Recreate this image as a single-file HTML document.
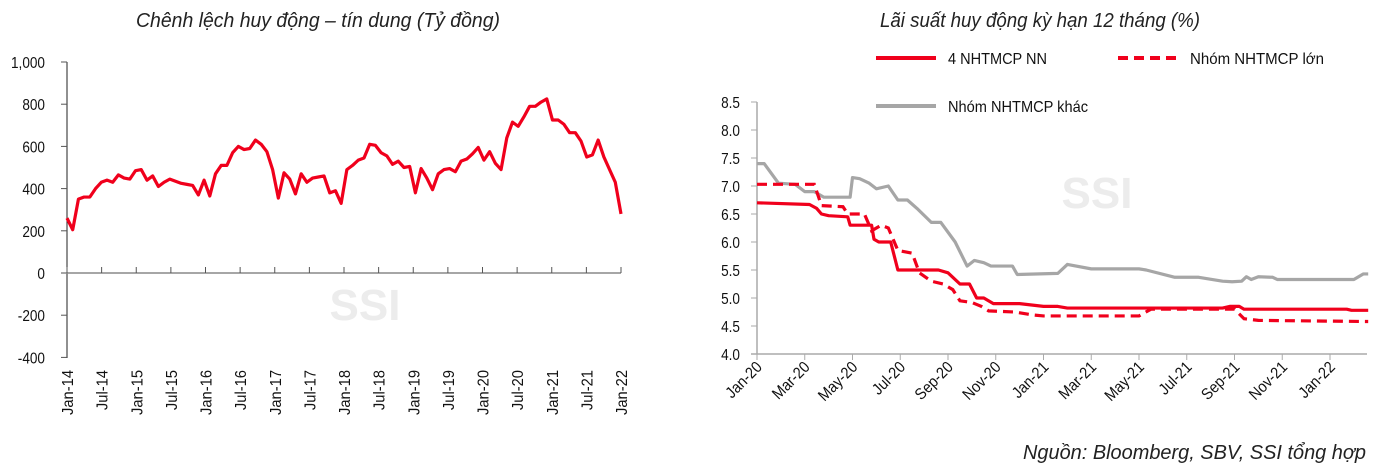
<!DOCTYPE html>
<html><head><meta charset="utf-8"><style>
html,body{margin:0;padding:0;background:#fff;width:1379px;height:474px;overflow:hidden}
svg{display:block;font-family:"Liberation Sans Narrow","Liberation Sans",sans-serif}
</style></head><body>
<svg id="chart" width="1379" height="474" viewBox="0 0 1379 474">
<text x="136" y="27" textLength="364" lengthAdjust="spacingAndGlyphs" font-size="20" font-style="italic" fill="#222">Chênh lệch huy động – tín dung (Tỷ đồng)</text>
<text x="880" y="27" textLength="320" lengthAdjust="spacingAndGlyphs" font-size="20" font-style="italic" fill="#222">Lãi suất huy động kỳ hạn 12 tháng (%)</text>
<text x="365" y="320" text-anchor="middle" font-size="44" font-weight="bold" fill="#ececec">SSI</text>
<text x="1097" y="208" text-anchor="middle" font-size="44" font-weight="bold" fill="#ececec">SSI</text>
<g id="left"></g>
<g id="right"></g>
<g>
<line x1="876" y1="58" x2="936" y2="58" stroke="#f0001c" stroke-width="4"/>
<text x="948" y="64" textLength="99" lengthAdjust="spacingAndGlyphs" font-size="16" fill="#111">4 NHTMCP NN</text>
<line x1="1118" y1="58" x2="1180" y2="58" stroke="#f0001c" stroke-width="4" stroke-dasharray="10,6"/>
<text x="1190" y="64" textLength="134" lengthAdjust="spacingAndGlyphs" font-size="16" fill="#111">Nhóm NHTMCP lớn</text>
<line x1="876" y1="106" x2="936" y2="106" stroke="#a6a6a6" stroke-width="4"/>
<text x="948" y="112" textLength="140" lengthAdjust="spacingAndGlyphs" font-size="16" fill="#111">Nhóm NHTMCP khác</text>
</g>
<text x="1023" y="459" textLength="343" lengthAdjust="spacingAndGlyphs" font-size="20" font-style="italic" fill="#222">Nguồn:  Bloomberg, SBV, SSI tổng hợp</text>
</svg>
<script>
const leftTicks=[1000,800,600,400,200,0,-200,-400];
const leftLabels=["Jan-14","Jul-14","Jan-15","Jul-15","Jan-16","Jul-16","Jan-17","Jul-17","Jan-18","Jul-18","Jan-19","Jul-19","Jan-20","Jul-20","Jan-21","Jul-21","Jan-22"];
const gap=[260,205,350,360,360,400,430,440,430,465,450,445,485,490,440,460,410,430,445,435,425,420,415,370,440,365,470,510,510,570,600,585,590,630,610,575,490,355,475,445,375,470,430,450,455,460,380,390,330,490,510,535,545,610,605,570,555,515,530,500,505,380,495,450,395,470,490,495,480,530,540,565,595,535,575,520,490,640,715,695,740,790,790,810,825,725,725,705,665,665,625,550,560,630,550,490,430,280];
const rightTicks=[8.5,8.0,7.5,7.0,6.5,6.0,5.5,5.0,4.5,4.0];
const rightLabels=["Jan-20","Mar-20","May-20","Jul-20","Sep-20","Nov-20","Jan-21","Mar-21","May-21","Jul-21","Sep-21","Nov-21","Jan-22"];
const khacM=[0,0.3,0.9,1.6,2,2.4,2.8,3.9,4.0,4.3,4.7,5.0,5.5,5.9,6.3,6.7,7.3,7.7,8.3,8.8,9.1,9.5,9.8,10.7,10.9,12.6,13.0,14.0,16.0,16.3,17.5,18.5,19.5,19.9,20.3,20.5,20.7,21.0,21.6,21.8,25.0,25.4,25.6];
const khacV=[7.4,7.4,7.05,7.03,6.9,6.9,6.8,6.8,7.15,7.13,7.05,6.95,7.0,6.75,6.75,6.6,6.35,6.35,6.0,5.57,5.67,5.63,5.57,5.57,5.42,5.44,5.6,5.52,5.52,5.5,5.37,5.37,5.3,5.29,5.3,5.38,5.33,5.38,5.37,5.33,5.33,5.43,5.43];
const nnM=[0,2.2,2.5,2.7,3.0,3.8,3.9,4.8,4.9,5.1,5.6,5.9,7.6,8.0,8.5,8.9,9.2,9.5,9.9,11.0,12.0,12.6,13.0,19.5,19.8,20.2,20.4,24.7,24.9,25.6];
const nnV=[6.7,6.67,6.6,6.5,6.47,6.45,6.3,6.3,6.05,6.0,6.0,5.5,5.5,5.45,5.25,5.25,5.0,5.0,4.9,4.9,4.85,4.85,4.82,4.82,4.85,4.85,4.8,4.8,4.78,4.78];
const lonM=[0,2.4,2.7,3.6,3.8,4.5,4.8,5.2,5.5,5.9,6.5,6.8,7.3,7.8,8.2,8.5,9.0,9.4,9.7,10.8,11.5,12.0,16.0,16.5,20.0,20.4,21.0,25.6];
const lonV=[7.03,7.03,6.65,6.63,6.5,6.5,6.2,6.3,6.25,5.85,5.8,5.45,5.3,5.25,5.15,4.95,4.92,4.85,4.77,4.75,4.7,4.68,4.68,4.8,4.8,4.63,4.6,4.58];

const NS="http://www.w3.org/2000/svg";
function mk(p,t,a){const e=document.createElementNS(NS,t);for(const k in a)e.setAttribute(k,a[k]);p.appendChild(e);return e;}

// left chart
const L=document.getElementById('left');
const ly=v=>273-v*(273-62)/1000;
const lx0=67,lx1=621;
const lxi=i=>lx0+i*(lx1-lx0)/(gap.length-1);
let e=mk(L,'line',{x1:lx0,y1:62,x2:lx0,y2:358,stroke:'#222','stroke-width':1});


leftTicks.forEach(v=>{
  const t=mk(L,'line',{x1:lx0-6,y1:ly(v),x2:lx0,y2:ly(v),stroke:'#555','stroke-width':1});
  
  
  const s=mk(L,'text',{x:45,y:ly(v)+6,'text-anchor':'end','font-size':16,fill:'#111',transform:`translate(45,0) scale(0.85,1) translate(-45,0)`});
  s.textContent=v.toLocaleString('en-US');
  
  
});
e=mk(L,'line',{x1:lx0-6,y1:ly(0),x2:lx1,y2:ly(0),stroke:'#888','stroke-width':1.5});


leftLabels.forEach((lab,i)=>{
  const x=lx0+i*(lx1-lx0)/(leftLabels.length-1);
  const t=mk(L,'line',{x1:x,y1:ly(0),x2:x,y2:ly(0)-6,stroke:'#555','stroke-width':1});
  
  
  const s=mk(L,'text',{x:0,y:0,'text-anchor':'end','font-size':16,fill:'#111',transform:`translate(${x+6},370) rotate(-90) scale(0.92,1)`});
  s.textContent=lab;
  
  
});
e=mk(L,'polyline',{points:gap.map((v,i)=>lxi(i)+','+ly(v)).join(' '),fill:'none',stroke:'#f0001c','stroke-width':3.2,'stroke-linejoin':'round'});



// right chart
const R=document.getElementById('right');
const ry=v=>354-(v-4)*(354-102)/4.5;
const rx=m=>757+m*(1330-757)/24;
e=mk(R,'line',{x1:757,y1:102,x2:757,y2:354,stroke:'#aaa','stroke-width':1.5});


rightTicks.forEach(v=>{
  const t=mk(R,'line',{x1:751,y1:ry(v),x2:757,y2:ry(v),stroke:'#aaa','stroke-width':1});
  
  
  const s=mk(R,'text',{x:740,y:ry(v)+6,'text-anchor':'end','font-size':16,fill:'#111',transform:`translate(740,0) scale(0.85,1) translate(-740,0)`});
  s.textContent=v.toFixed(1);
  
  
});
e=mk(R,'line',{x1:751,y1:354,x2:1367,y2:354,stroke:'#aaa','stroke-width':1.5});


rightLabels.forEach((lab,i)=>{
  const x=rx(i*2);
  const t=mk(R,'line',{x1:x,y1:354,x2:x,y2:360,stroke:'#aaa','stroke-width':1});
  
  
  const s=mk(R,'text',{x:0,y:0,'text-anchor':'end','font-size':16,fill:'#111',transform:`translate(${x+6},368) rotate(-45) scale(0.9,1)`});
  s.textContent=lab;
  
  
});
e=mk(R,'polyline',{points:khacM.map((m,i)=>rx(m)+','+ry(khacV[i])).join(' '),fill:'none',stroke:'#a6a6a6','stroke-width':3.2,'stroke-linejoin':'round'});


e=mk(R,'polyline',{points:lonM.map((m,i)=>rx(m)+','+ry(lonV[i])).join(' '),fill:'none',stroke:'#f0001c','stroke-width':3.2,'stroke-dasharray':'10,6'});


e=mk(R,'polyline',{points:nnM.map((m,i)=>rx(m)+','+ry(nnV[i])).join(' '),fill:'none',stroke:'#f0001c','stroke-width':3.2,'stroke-linejoin':'round'});


</script>
</body></html>
